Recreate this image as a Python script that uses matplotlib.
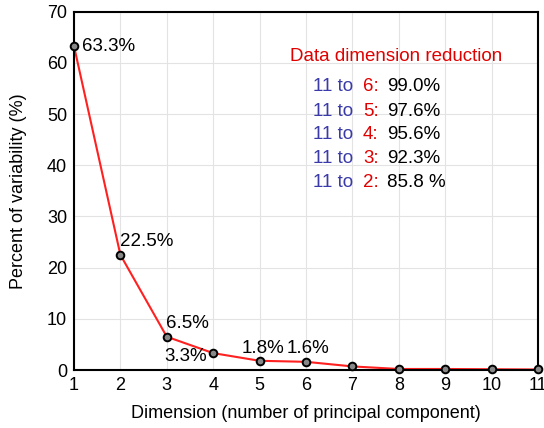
import matplotlib
matplotlib.use("Agg")
import matplotlib.pyplot as plt

plt.rcParams['font.family'] = ['Liberation Sans', 'DejaVu Sans']

dims = [1, 2, 3, 4, 5, 6, 7, 8, 9, 10, 11]
variability = [63.3, 22.5, 6.5, 3.3, 1.8, 1.6, 0.7, 0.2, 0.2, 0.15, 0.1]
labels = ["63.3%", "22.5%", "6.5%", "3.3%", "1.8%", "1.6%"]
reduce_to = ["6", "5", "4", "3", "2"]
retained = ["99.0%", "97.6%", "95.6%", "92.3%", "85.8 %"]

fig = plt.figure(figsize=(5.44, 4.28), dpi=100)
ax = fig.add_axes([0.136, 0.1355, 0.853, 0.837])
ax.plot(dims, variability, color='#ff2020', lw=1.5, zorder=2)
ax.plot(dims, variability, 'o', mfc='#888888', mec='black', ms=5.5, mew=1.4, zorder=3,
        clip_on=False)

ax.set_xlim(1, 11)
ax.set_ylim(0, 70)
ax.set_xticks(dims)
ax.set_yticks(range(0, 71, 10))
ax.grid(True, color='#e3e3e3', lw=0.8)
for s in ax.spines.values():
    s.set_color('black')
    s.set_linewidth(1.5)
ax.tick_params(labelsize=13, length=0, pad=5)
ax.set_xlabel("Dimension (number of principal component)", fontsize=13, labelpad=8)
ax.set_ylabel("Percent of variability (%)", fontsize=13, labelpad=14)

positions = [(1.17, 63.2), (1.99, 25.2), (2.98, 9.0), (2.94, 2.7), (4.62, 4.3), (5.59, 4.3)]
for lab, (x, y) in zip(labels, positions):
    ax.text(x, y, lab, fontsize=13.5, va='center', ha='left')

ax.text(5.66, 61.2, "Data dimension reduction", color='#e00000', fontsize=13.5, va='center')
ys = [55.3, 50.6, 45.95, 41.3, 36.6]
for t, r, y in zip(reduce_to, retained, ys):
    ax.text(6.16, y, "11 to", color='#3a3aa8', fontsize=13.5, va='center')
    ax.text(7.23, y, t + ":", color='#e00000', fontsize=13.5, va='center')
    ax.text(7.75, y, r, color='black', fontsize=13.5, va='center')

fig.savefig("out.png", dpi=100)
